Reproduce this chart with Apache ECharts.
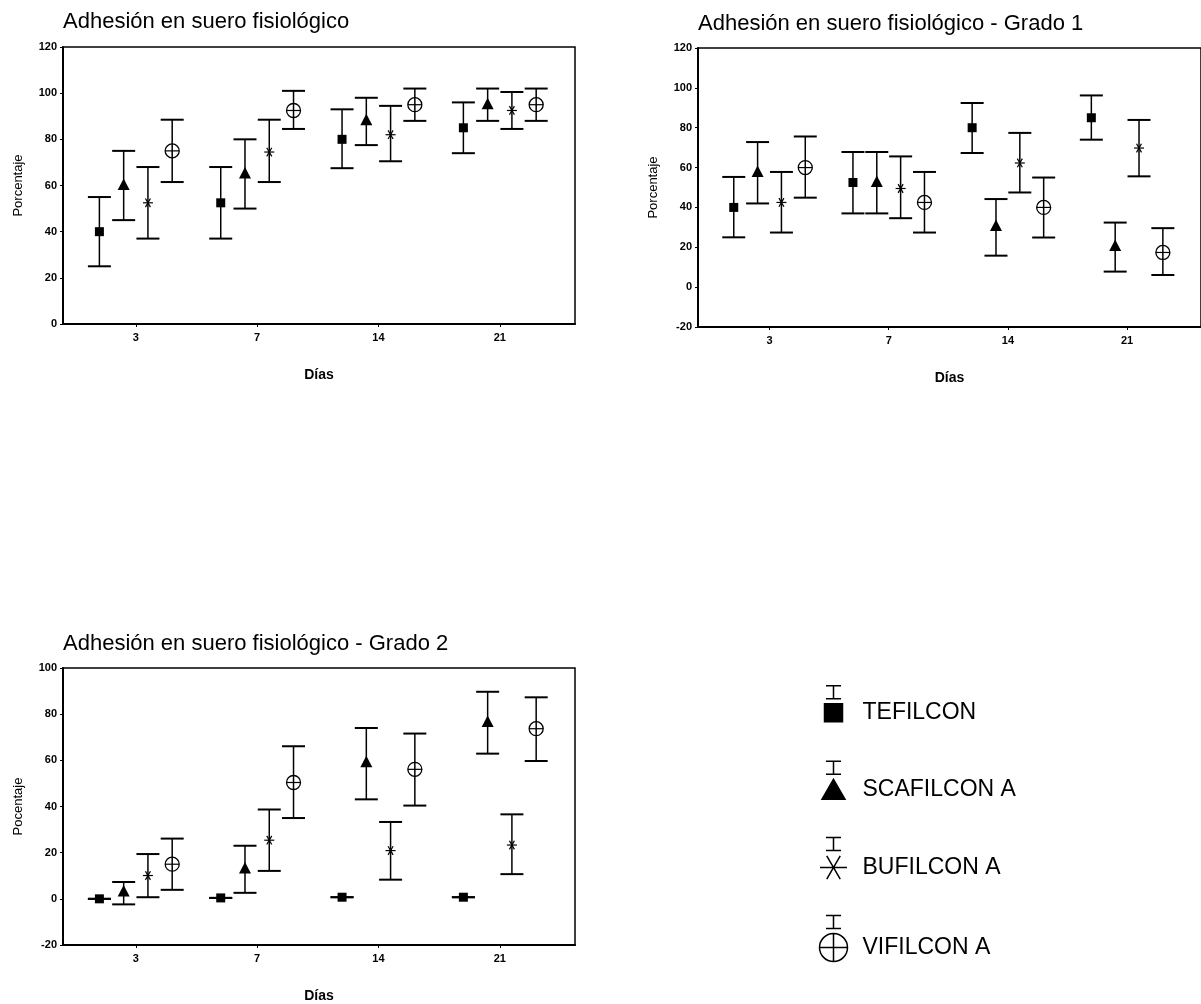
<!DOCTYPE html>
<html>
<head>
<meta charset="utf-8">
<script src="https://cdn.jsdelivr.net/npm/echarts@6/dist/echarts.min.js"></script>
<style>
  html, body { margin: 0; padding: 0; background: #fff; }
  #main { width: 1201px; height: 1004px; }
</style>
</head>
<body>
<div id="main"></div>
<script>
const days = ["3", "7", "14", "21"];
const lenses = ["TEFILCON", "SCAFILCON A", "BUFILCON A", "VIFILCON A"];
const markers = ["square", "triangle", "asterisk", "circle"];
const offsets = [-0.3, -0.1, 0.1, 0.3];

// [mean, low, high] per day
const sueroTef = [[40, 25, 55], [52.5, 37, 68], [80, 67.5, 93], [85, 74, 96]];
const sueroSca = [[60, 45, 75], [65, 50, 80], [88, 77.5, 98], [95, 88, 102]];
const sueroBuf = [[52.5, 37, 68], [74.5, 61.5, 88.5], [82, 70.5, 94.5], [92.5, 84.5, 100.5]];
const sueroVif = [[75, 61.5, 88.5], [92.5, 84.5, 101], [95, 88, 102], [95, 88, 102]];

const grado1Tef = [[40, 25, 55.3], [52.5, 37, 67.8], [80, 67.3, 92.4], [85, 74, 96.2]];
const grado1Sca = [[57.5, 42, 72.8], [52.5, 37, 67.8], [30.4, 15.8, 44.2], [20.4, 7.8, 32.4]];
const grado1Buf = [[42.5, 27.4, 57.8], [49.5, 34.6, 65.6], [62.3, 47.5, 77.4], [69.8, 55.6, 83.9]];
const grado1Vif = [[60, 44.9, 75.6], [42.5, 27.4, 57.8], [40, 24.9, 55], [17.4, 6.1, 29.6]];

const grado2Tef = [[0, 0, 0], [0.4, 0.4, 0.4], [0.7, 0.7, 0.7], [0.7, 0.7, 0.7]];
const grado2Sca = [[3, -2.4, 7.3], [12.9, 2.6, 23], [59, 43.1, 74], [76.4, 62.9, 89.7]];
const grado2Buf = [[10.1, 0.7, 19.4], [25.4, 12.1, 38.7], [20.9, 8.3, 33.3], [23.3, 10.7, 36.6]];
const grado2Vif = [[15, 3.9, 26.1], [50.4, 35, 66.1], [56.1, 40.4, 71.6], [73.7, 59.7, 87.3]];

const titles = [
  "Adhesión en suero fisiológico",
  "Adhesión en suero fisiológico - Grado 1",
  "Adhesión en suero fisiológico - Grado 2"
];
const yNames = ["Porcentaje", "Porcentaje", "Pocentaje"];
const yMin = [0, -20, -20];
const yMax = [120, 120, 100];
const panels = [
  [sueroTef, sueroSca, sueroBuf, sueroVif],
  [grado1Tef, grado1Sca, grado1Buf, grado1Vif],
  [grado2Tef, grado2Sca, grado2Buf, grado2Vif]
];

const FONT = "'Liberation Sans', Arial, sans-serif";
const grids = [
  { left: 63, top: 47, width: 512, height: 277 },
  { left: 698, top: 48, width: 512, height: 279 },
  { left: 63, top: 668, width: 512, height: 280 }
];
const titlePos = [{ left: 63, top: 11 }, { left: 698, top: 13 }, { left: 63, top: 633 }];

function markerShape(kind, x, y) {
  const ln = { stroke: "#000", lineWidth: 1.2 };
  if (kind === "square") {
    return { type: "rect", shape: { x: x - 4.5, y: y - 4.5, width: 9, height: 9 }, style: { fill: "#000" } };
  }
  if (kind === "triangle") {
    return { type: "polygon", shape: { points: [[x, y - 7], [x + 6, y + 4.5], [x - 6, y + 4.5]] }, style: { fill: "#000" } };
  }
  if (kind === "asterisk") {
    const r = 5, dx = r * 0.5, dy = r * 0.866;
    return {
      type: "group",
      children: [
        { type: "line", shape: { x1: x - r, y1: y, x2: x + r, y2: y }, style: ln },
        { type: "line", shape: { x1: x - dx, y1: y - dy, x2: x + dx, y2: y + dy }, style: ln },
        { type: "line", shape: { x1: x + dx, y1: y - dy, x2: x - dx, y2: y + dy }, style: ln }
      ]
    };
  }
  return {
    type: "group",
    children: [
      { type: "circle", shape: { cx: x, cy: y, r: 7 }, style: { fill: "none", stroke: "#000", lineWidth: 1.3 } },
      { type: "line", shape: { x1: x - 7, y1: y, x2: x + 7, y2: y }, style: ln }
    ]
  };
}

function makeRender(kind) {
  return function (params, api) {
    const x = api.value(0);
    const c = api.coord([x, api.value(1)]);
    const lo = api.coord([x, api.value(2)]);
    const hi = api.coord([x, api.value(3)]);
    const cap = 11.5;
    const capStyle = { stroke: "#000", lineWidth: 2 };
    return {
      type: "group",
      children: [
        { type: "line", shape: { x1: c[0], y1: lo[1], x2: c[0], y2: hi[1] }, style: { stroke: "#000", lineWidth: 1.5 } },
        { type: "line", shape: { x1: c[0] - cap, y1: lo[1], x2: c[0] + cap, y2: lo[1] }, style: capStyle },
        { type: "line", shape: { x1: c[0] - cap, y1: hi[1], x2: c[0] + cap, y2: hi[1] }, style: capStyle },
        markerShape(kind, c[0], c[1])
      ]
    };
  };
}

const xAxes = grids.map((g, i) => ({
  type: "value",
  gridIndex: i,
  min: -0.6,
  max: 3.62,
  splitLine: { show: false },
  axisLine: { show: true, onZero: false, lineStyle: { color: "#000", width: 2 } },
  axisTick: { show: true, customValues: [0, 1, 2, 3], length: 3, lineStyle: { color: "#000" } },
  axisLabel: {
    customValues: [0, 1, 2, 3],
    formatter: (v) => days[Math.round(v)],
    margin: 8,
    color: "#000",
    fontSize: 11,
    fontWeight: "bold",
    fontFamily: FONT
  },
  name: "Días",
  nameLocation: "middle",
  nameGap: 44,
  nameTextStyle: { color: "#000", fontSize: 14, fontWeight: "bold", fontFamily: FONT }
}));

const yAxes = grids.map((g, i) => ({
  type: "value",
  gridIndex: i,
  min: yMin[i],
  max: yMax[i],
  interval: 20,
  splitLine: { show: false },
  axisLine: { show: true, onZero: false, lineStyle: { color: "#000", width: 2 } },
  axisTick: { show: true, length: 3, lineStyle: { color: "#000" } },
  axisLabel: { margin: 6, color: "#000", fontSize: 11, fontWeight: "bold", fontFamily: FONT },
  name: yNames[i],
  nameLocation: "middle",
  nameRotate: 90,
  nameGap: 38,
  nameTextStyle: { color: "#000", fontSize: 13, fontFamily: FONT }
}));

const series = [];
panels.forEach((sets, gi) => {
  sets.forEach((arr, k) => {
    series.push({
      type: "custom",
      name: lenses[k],
      xAxisIndex: gi,
      yAxisIndex: gi,
      renderItem: makeRender(markers[k]),
      encode: { x: 0, y: [1, 2, 3] },
      data: arr.map((v, d) => [d + offsets[k], v[0], v[1], v[2]]),
      silent: true
    });
  });
});

// legend icons: error bar glyph above the marker, box 48 x 68, marker centred
const box = "M0 0 L0 0 M48 68 L48 68 ";
const legendIcons = [
  box + "M16.5 7 L31.5 7 M24 7 L24 20 M16.5 20 L31.5 20 M15 25 L33 25 L33 43 L15 43 Z",
  box + "M16.5 6 L31.5 6 M24 6 L24 19 M16.5 19 L31.5 19 M24 24 L35.5 44 L12.5 44 Z",
  box + "M16.5 4 L31.5 4 M24 4 L24 17 M16.5 17 L31.5 17 M10.5 34 L37.5 34 M17.25 22.3 L30.75 45.7 M30.75 22.3 L17.25 45.7",
  box + "M16.5 2 L31.5 2 M24 2 L24 15 M16.5 15 L31.5 15 M10 34 A14 14 0 1 1 38 34 A14 14 0 1 1 10 34 Z M10 34 L38 34 M24 20 L24 48"
];
const legendFill = ["#000", "#000", "none", "none"];

const chart = echarts.init(document.getElementById("main"));
chart.setOption({
  backgroundColor: "#fff",
  animation: false,
  title: titles.map((t, i) => ({
    text: t,
    left: titlePos[i].left,
    top: titlePos[i].top,
    padding: 0,
    textStyle: { color: "#000", fontSize: 22, fontWeight: "normal", fontFamily: FONT }
  })),
  legend: {
    orient: "vertical",
    left: 807,
    top: 678,
    padding: 0,
    itemWidth: 48,
    itemHeight: 68,
    itemGap: 7,
    selectedMode: false,
    textStyle: { color: "#000", fontSize: 23, fontFamily: FONT },
    data: lenses.map((n, k) => ({
      name: n,
      icon: "path://" + legendIcons[k],
      itemStyle: { color: legendFill[k], borderColor: "#000", borderWidth: 1.5 }
    }))
  },
  grid: grids.map((g) => Object.assign({ show: true, borderColor: "#000", borderWidth: 1.5, backgroundColor: "transparent" }, g)),
  xAxis: xAxes,
  yAxis: yAxes,
  series: series
});
</script>
</body>
</html>
